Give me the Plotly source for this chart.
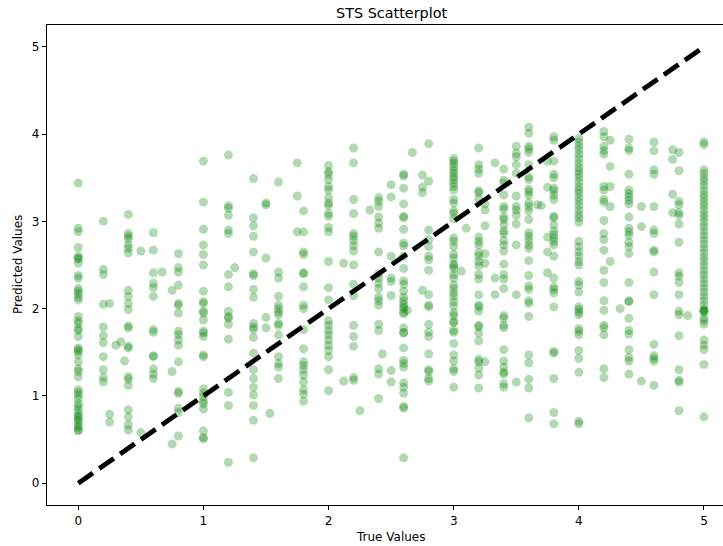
import plotly.graph_objects as go

# ---- data: predicted values grouped by true score ----
true_levels = [0.0, 0.2, 0.25, 0.3, 0.34, 0.37, 0.4, 0.5, 0.6, 0.67, 0.75, 0.8,
               1.0, 1.2, 1.25, 1.4, 1.5, 1.53, 1.6, 1.75, 1.8, 2.0, 2.12, 2.2,
               2.25, 2.33, 2.4, 2.43, 2.5, 2.6, 2.63, 2.67, 2.75, 2.8, 3.0,
               3.06, 3.1, 3.2, 3.25, 3.33, 3.4, 3.5, 3.6, 3.67, 3.7, 3.75, 3.8,
               4.0, 4.2, 4.25, 4.33, 4.4, 4.5, 4.6, 4.75, 4.8, 4.87, 5.0]

pred_0_00 = [3.44, 2.92, 2.88, 2.70, 2.60, 2.58, 2.57, 2.52, 2.38, 2.35, 2.23,
             2.20, 2.17, 2.13, 2.10, 1.91, 1.86, 1.83, 1.77, 1.75, 1.68, 1.55,
             1.53, 1.51, 1.47, 1.39, 1.31, 1.28, 1.22, 1.07, 1.04, 1.01, 0.97,
             0.91, 0.88, 0.84, 0.80, 0.77, 0.75, 0.72, 0.70, 0.66, 0.64, 0.61, 0.60]
pred_0_20 = [3.00, 2.45, 2.39, 2.05, 1.79, 1.69, 1.61, 1.45, 1.30, 1.21, 1.16]
pred_0_25 = [2.06, 0.79, 0.70]
pred_0_30 = [1.58]
pred_0_34 = [1.62]
pred_0_37 = [1.40]
pred_0_40 = [3.08, 2.86, 2.83, 2.80, 2.73, 2.69, 2.64, 2.21, 2.14, 2.06, 1.99,
             1.80, 1.78, 1.57, 1.55, 1.22, 1.19, 1.12, 0.84, 0.76, 0.67, 0.61]
pred_0_50 = [2.66, 0.58]
pred_0_60 = [2.87, 2.67, 2.41, 2.29, 2.24, 2.14, 1.76, 1.73, 1.46, 1.45, 1.31, 1.25, 1.20]
pred_0_67 = [2.42]
pred_0_75 = [2.21, 1.28, 0.45]
pred_0_80 = [2.63, 2.47, 2.42, 2.27, 2.06, 2.04, 1.95, 1.74, 1.70, 1.64, 1.58,
             1.39, 1.05, 1.03, 0.86, 0.81, 0.54]
pred_1_00 = [3.69, 3.22, 2.91, 2.73, 2.62, 2.50, 2.20, 2.08, 2.06, 1.97, 1.95,
             1.87, 1.74, 1.72, 1.68, 1.47, 1.45, 1.08, 1.03, 0.99, 0.94, 0.91,
             0.85, 0.60, 0.52, 0.51]
pred_1_20 = [3.76, 3.18, 3.15, 3.07, 2.90, 2.86, 2.39, 2.25, 1.97, 1.91, 1.89,
             1.82, 1.65, 1.04, 0.89, 0.24]
pred_1_25 = [2.47]
pred_1_40 = [3.49, 3.04, 2.95, 2.83, 2.65, 2.40, 2.38, 2.22, 2.13, 1.83, 1.79,
             1.76, 1.67, 1.49, 1.30, 1.20, 1.10, 1.01, 0.89, 0.72, 0.29]
pred_1_50 = [3.21, 3.19, 2.58, 1.90, 1.78]
pred_1_53 = [0.80]
pred_1_60 = [3.45, 2.42, 2.35, 2.14, 2.04, 2.00, 1.96, 1.93, 1.83, 1.81, 1.70,
             1.45, 1.37, 1.33, 1.20]
pred_1_75 = [3.67, 3.29, 2.88]
pred_1_80 = [3.12, 2.88, 2.65, 2.62, 2.41, 2.40, 2.25, 2.04, 2.00, 1.76, 1.54,
             1.39, 1.35, 1.30, 1.24, 1.16, 1.07, 1.02, 0.94]
pred_2_00 = [3.64, 3.57, 3.54, 3.48, 3.40, 3.36, 3.27, 3.21, 3.18, 3.09, 3.06,
             2.93, 2.88, 2.54, 2.24, 2.10, 1.86, 1.81, 1.75, 1.70, 1.64, 1.58,
             1.52, 1.45, 1.30, 1.06]
pred_2_12 = [2.52, 1.17]
pred_2_20 = [3.84, 3.67, 3.25, 3.09, 2.86, 2.83, 2.78, 2.72, 2.66, 2.50, 2.28,
             2.15, 1.81, 1.68, 1.57, 1.21, 1.18]
pred_2_25 = [0.83]
pred_2_33 = [3.13]
pred_2_40 = [3.27, 3.23, 3.17, 3.05, 2.98, 2.92, 2.65, 2.40, 2.35, 2.29, 2.23,
             2.13, 2.09, 2.04, 1.82, 1.75, 1.31, 1.25, 0.97]
pred_2_43 = [1.48]
pred_2_50 = [3.42, 3.28, 2.60, 2.35, 2.31, 2.15, 1.29, 1.16]
pred_2_60 = [3.54, 3.52, 3.38, 3.20, 3.06, 3.04, 2.91, 2.75, 2.72, 2.60, 2.46,
             2.32, 2.28, 2.20, 2.13, 2.09, 2.05, 2.02, 2.00, 1.96, 1.94, 1.78,
             1.73, 1.72, 1.55, 1.41, 1.37, 1.33, 1.15, 1.10, 1.03, 0.88, 0.86, 0.29]
pred_2_63 = [1.98]
pred_2_67 = [3.79]
pred_2_75 = [3.53, 3.39, 3.33, 2.21]
pred_2_80 = [3.89, 3.46, 2.90, 2.79, 2.71, 2.60, 2.56, 2.44, 2.16, 2.04, 2.02,
             1.82, 1.73, 1.68, 1.48, 1.30, 1.28, 1.20, 1.17]
pred_3_00 = [3.72, 3.69, 3.66, 3.62, 3.58, 3.55, 3.51, 3.48, 3.44, 3.40, 3.36,
             3.25, 3.21, 3.12, 3.09, 3.03, 2.81, 2.77, 2.71, 2.62, 2.58, 2.51,
             2.49, 2.46, 2.39, 2.35, 2.27, 2.23, 2.18, 2.14, 2.08, 2.03, 1.95,
             1.92, 1.85, 1.84, 1.75, 1.73, 1.60, 1.47, 1.40, 1.31, 1.28, 1.10]
pred_3_06 = [2.43]
pred_3_10 = [2.92]
pred_3_20 = [3.84, 3.65, 3.60, 3.55, 3.35, 3.33, 3.26, 2.82, 2.77, 2.73, 2.64,
             2.60, 2.54, 2.49, 2.39, 2.34, 2.16, 2.04, 2.02, 1.97, 1.81, 1.79,
             1.72, 1.63, 1.42, 1.39, 1.32, 1.24, 1.09]
pred_3_25 = [3.20, 3.13, 2.95, 2.63, 2.52, 1.39]
pred_3_33 = [3.67, 2.35, 2.16]
pred_3_40 = [3.60, 3.47, 3.44, 3.30, 3.17, 3.14, 3.05, 3.02, 2.96, 2.89, 2.86,
             2.78, 2.73, 2.66, 2.51, 2.39, 2.34, 2.23, 1.92, 1.89, 1.81, 1.78,
             1.53, 1.40, 1.33, 1.27, 1.25, 1.14, 1.10]
pred_3_50 = [3.86, 3.78, 3.74, 3.65, 3.55, 3.29, 3.17, 3.13, 3.07, 2.97, 2.73, 2.16, 1.16]
pred_3_60 = [4.08, 4.01, 3.86, 3.83, 3.79, 3.65, 3.51, 3.48, 3.37, 3.34, 3.30,
             3.21, 3.17, 3.12, 3.02, 2.87, 2.83, 2.78, 2.73, 2.69, 2.55, 2.38,
             2.26, 2.22, 2.09, 2.06, 1.91, 1.47, 1.38, 1.19, 1.09, 0.75]
pred_3_67 = [3.19]
pred_3_70 = [3.18]
pred_3_75 = [3.69, 3.39, 2.82, 2.65, 2.41]
pred_3_80 = [3.97, 3.93, 3.69, 3.54, 3.50, 3.38, 3.35, 3.30, 3.25, 3.06, 3.04,
             2.96, 2.89, 2.85, 2.81, 2.77, 2.73, 2.60, 2.35, 2.25, 2.22, 2.18,
             2.02, 1.51, 1.49, 1.20, 0.81, 0.68]
pred_4_00 = [3.95, 3.91, 3.86, 3.82, 3.77, 3.72, 3.67, 3.62, 3.58, 3.54, 3.50,
             3.45, 3.40, 3.36, 3.32, 3.27, 3.23, 3.18, 3.13, 3.08, 3.04, 2.99,
             2.77, 2.71, 2.65, 2.60, 2.54, 2.50, 2.31, 2.27, 2.19, 2.02, 1.99,
             1.96, 1.93, 1.77, 1.74, 1.70, 1.52, 1.43, 1.27, 0.71, 0.68]
pred_4_20 = [4.03, 3.97, 3.86, 3.81, 3.77, 3.40, 3.36, 3.25, 3.22, 3.01, 2.86,
             2.79, 2.67, 2.44, 2.30, 2.09, 1.98, 1.81, 1.78, 1.70, 1.31, 1.21]
pred_4_25 = [3.93, 3.63, 3.40, 3.17, 2.54]
pred_4_33 = [2.00]
pred_4_40 = [3.94, 3.84, 3.81, 3.54, 3.36, 3.32, 3.28, 3.24, 3.20, 3.05, 2.92,
             2.88, 2.84, 2.76, 2.71, 2.63, 2.30, 2.09, 2.08, 1.89, 1.75, 1.71,
             1.53, 1.44, 1.40, 1.25]
pred_4_50 = [3.17, 2.94, 1.17]
pred_4_60 = [3.91, 3.81, 3.59, 3.54, 3.17, 2.90, 2.86, 2.67, 2.65, 2.42, 2.16,
             1.59, 1.46, 1.43, 1.40, 1.12]
pred_4_75 = [3.82, 3.71, 3.31, 3.10]
pred_4_80 = [3.79, 3.58, 3.23, 3.19, 3.10, 3.07, 2.97, 2.76, 2.41, 2.37, 2.30,
             2.16, 1.97, 1.93, 1.69, 1.30, 1.18, 1.16, 0.83]
pred_4_87 = [1.92]
pred_5_00 = [3.91, 3.88, 3.59, 3.55, 3.50, 3.46, 3.41, 3.36, 3.31, 3.27, 3.22,
             3.18, 3.13, 3.08, 3.04, 2.99, 2.94, 2.89, 2.84, 2.79, 2.74, 2.69,
             2.64, 2.59, 2.54, 2.49, 2.44, 2.39, 2.34, 2.29, 2.24, 2.19, 2.14,
             2.09, 2.04, 1.99, 1.98, 1.97, 1.96, 1.89, 1.86, 1.82, 1.64, 1.58,
             1.53, 1.36, 0.76]

pred_groups = [pred_0_00, pred_0_20, pred_0_25, pred_0_30, pred_0_34, pred_0_37,
               pred_0_40, pred_0_50, pred_0_60, pred_0_67, pred_0_75, pred_0_80,
               pred_1_00, pred_1_20, pred_1_25, pred_1_40, pred_1_50, pred_1_53,
               pred_1_60, pred_1_75, pred_1_80, pred_2_00, pred_2_12, pred_2_20,
               pred_2_25, pred_2_33, pred_2_40, pred_2_43, pred_2_50, pred_2_60,
               pred_2_63, pred_2_67, pred_2_75, pred_2_80, pred_3_00, pred_3_06,
               pred_3_10, pred_3_20, pred_3_25, pred_3_33, pred_3_40, pred_3_50,
               pred_3_60, pred_3_67, pred_3_70, pred_3_75, pred_3_80, pred_4_00,
               pred_4_20, pred_4_25, pred_4_33, pred_4_40, pred_4_50, pred_4_60,
               pred_4_75, pred_4_80, pred_4_87, pred_5_00]

ideal_line = [0, 5]
tick_values = [0, 1, 2, 3, 4, 5]
tick_labels = ["0", "1", "2", "3", "4", "5"]

# ---- build flat arrays ----
true_values = []
predicted_values = []
for level, preds in zip(true_levels, pred_groups):
    true_values.extend([level] * len(preds))
    predicted_values.extend(preds)

FONT = "DejaVu Sans"
W, H = 723, 546
L, T, B = 47, 25, 41

fig = go.Figure()
fig.add_trace(go.Scatter(
    x=true_values, y=predicted_values, mode="markers",
    marker=dict(size=9, color="rgba(0,128,0,0.3)",
                line=dict(width=0)),
    hoverinfo="skip", showlegend=False))
fig.add_trace(go.Scatter(
    x=ideal_line, y=ideal_line, mode="lines",
    line=dict(color="black", width=4.8, dash="17.8px,7.7px"),
    hoverinfo="skip", showlegend=False))

axis_common = dict(
    showgrid=False, zeroline=False, showline=True, linecolor="black",
    linewidth=1, ticks="outside", ticklen=4.2, tickwidth=1, tickcolor="black",
    tickfont=dict(family=FONT, size=12, color="black"),
    tickvals=tick_values, ticktext=tick_labels)

fig.update_layout(
    width=W, height=H,
    margin=dict(l=L, r=0, t=T, b=B, pad=0),
    paper_bgcolor="white", plot_bgcolor="white",
    font=dict(family=FONT, color="black"),
    xaxis=dict(range=[-0.25, 5.152], mirror=True, **axis_common),
    yaxis=dict(range=[-0.25, 5.25], mirror=False, **axis_common),
    annotations=[
        dict(text="STS Scatterplot", x=391, y=13, xref="paper", yref="paper",
             showarrow=False, font=dict(family=FONT, size=14.4, color="black")),
        dict(text="True Values", x=391, y=537, showarrow=False,
             font=dict(family=FONT, size=12, color="black")),
        dict(text="Predicted Values", x=18, y=265, showarrow=False, textangle=-90,
             font=dict(family=FONT, size=12, color="black")),
    ],
)

# convert pixel positions of annotations to paper coordinates
pw = W - L
ph = H - T - B
new_ann = []
for a in fig.layout.annotations:
    px_, py_ = a.x, a.y
    a.xref = "paper"
    a.yref = "paper"
    a.x = (px_ - L) / pw
    a.y = (H - B - py_) / ph
    a.xanchor = "center"
    a.yanchor = "middle"
    new_ann.append(a)
fig.layout.annotations = new_ann

fig.write_html("out.html")
